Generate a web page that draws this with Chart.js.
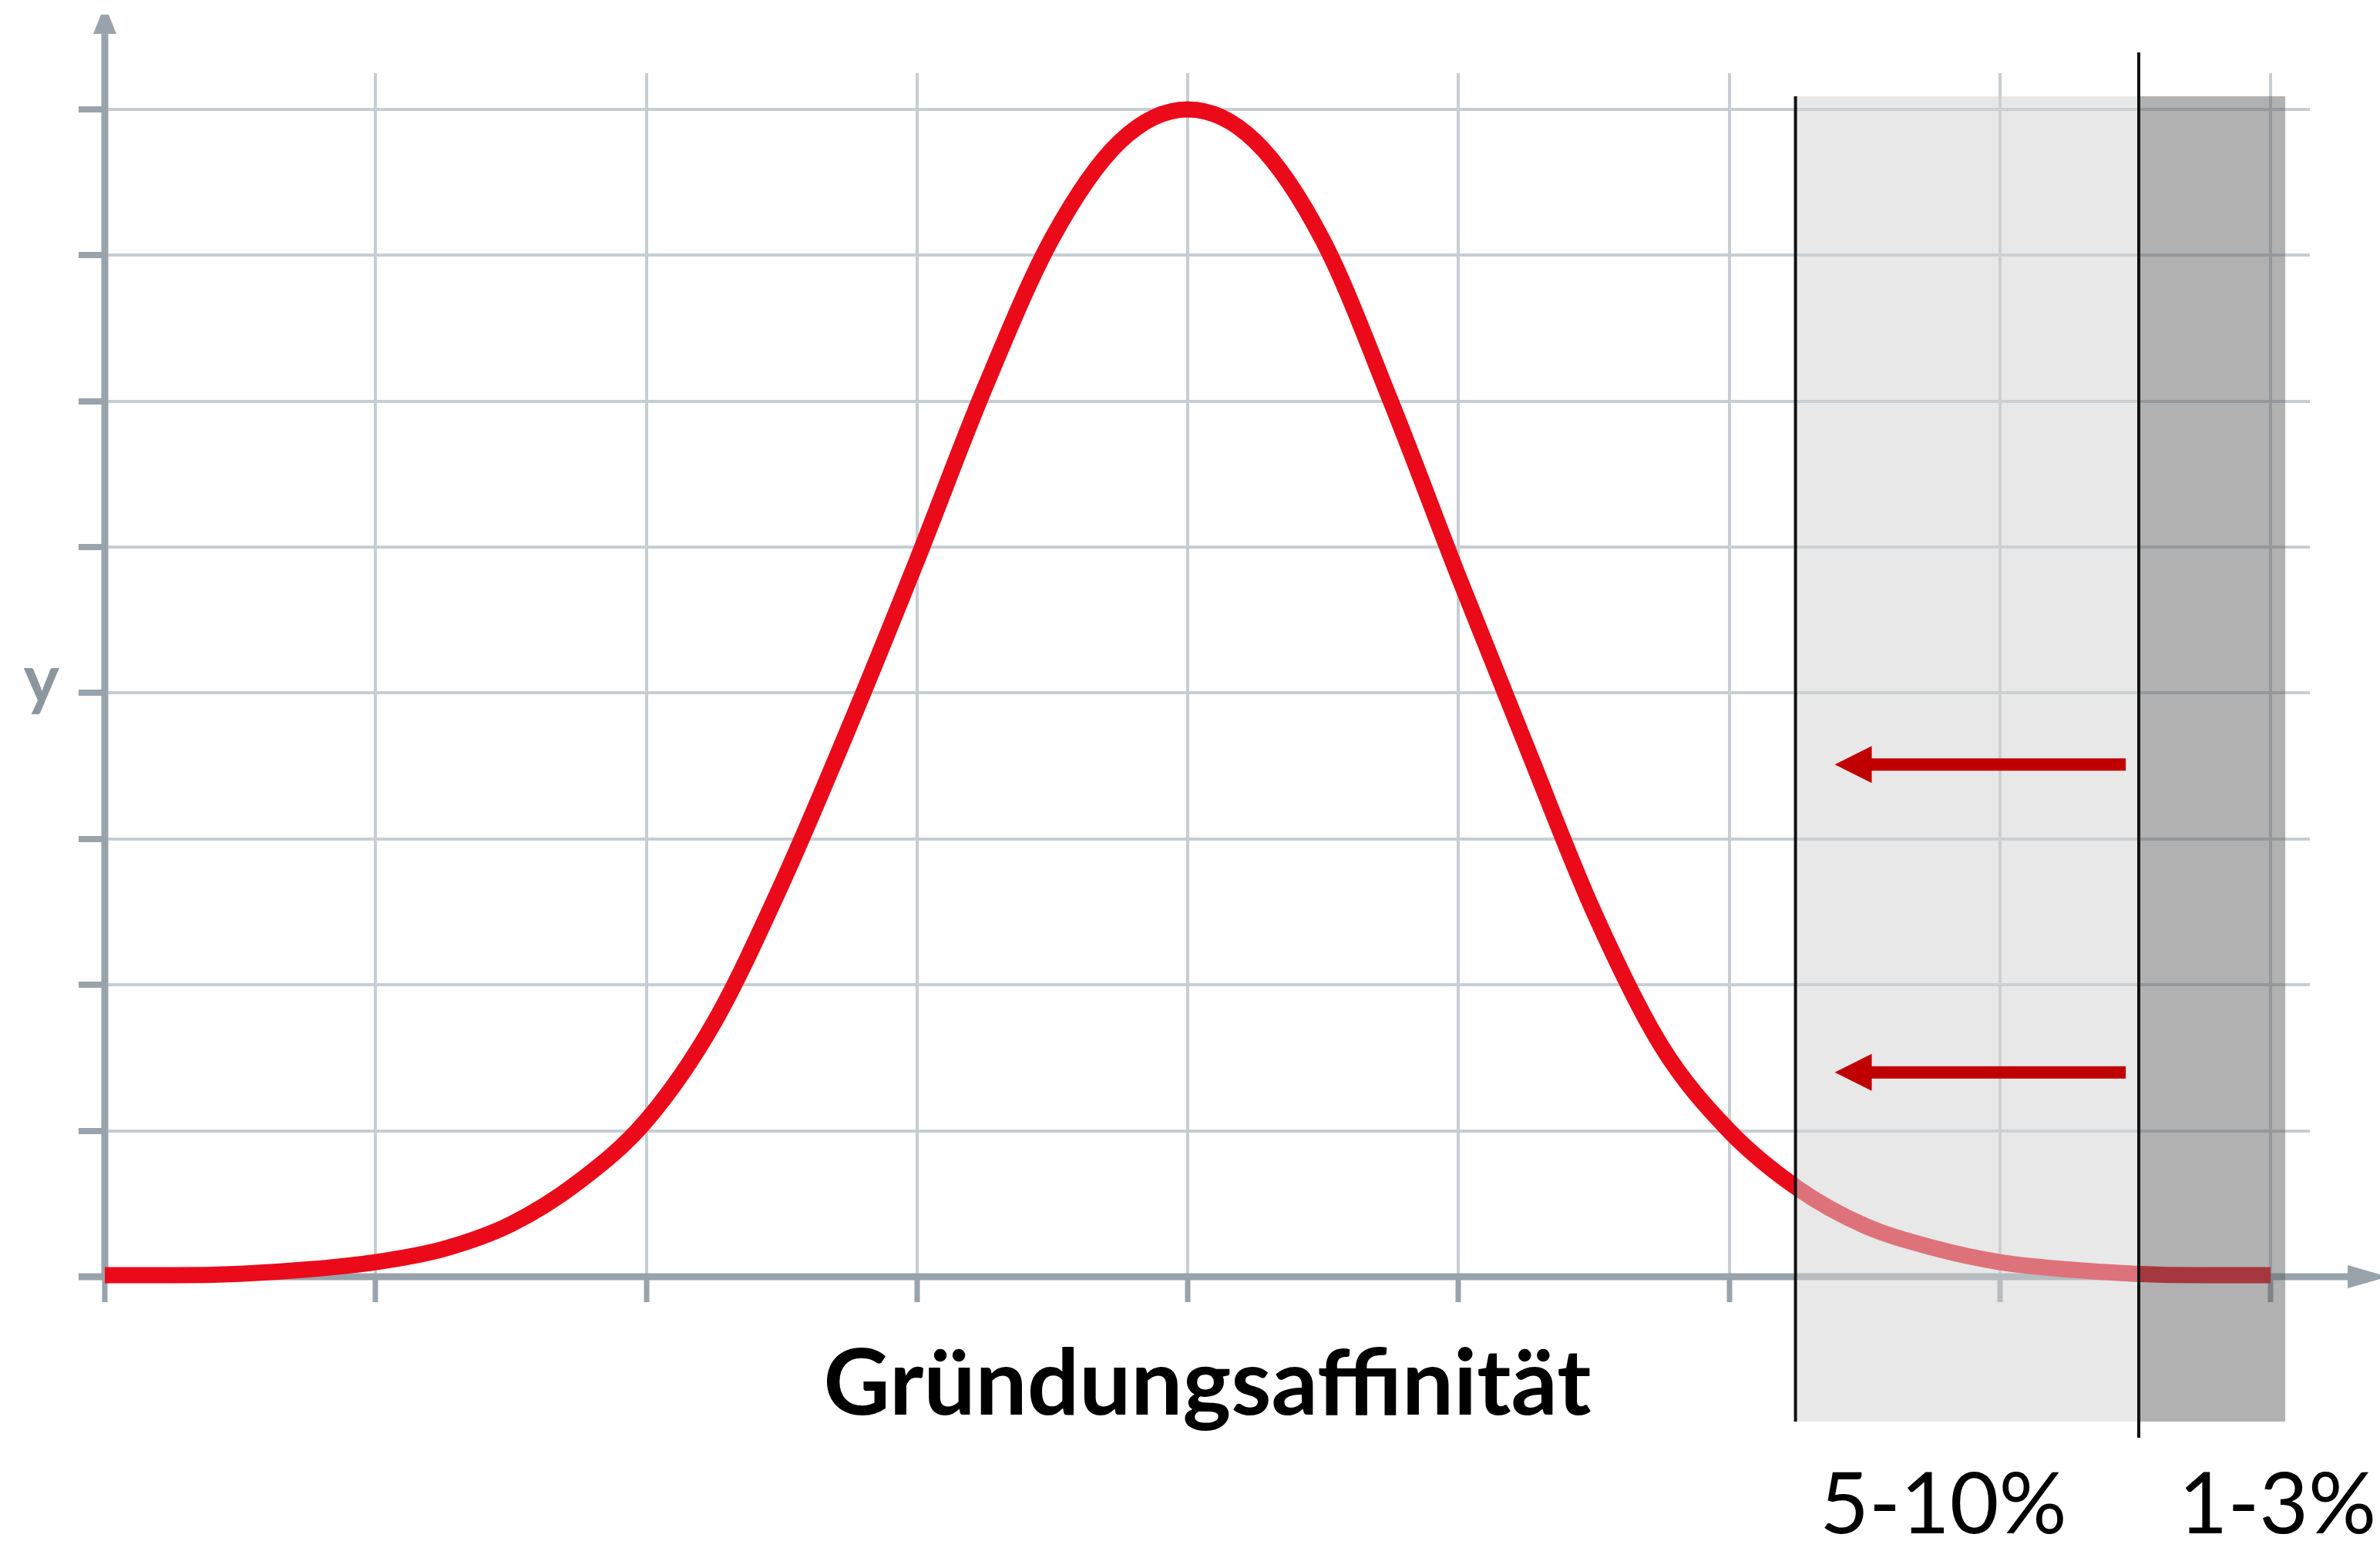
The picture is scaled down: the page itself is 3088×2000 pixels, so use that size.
<!DOCTYPE html>
<html>
<head>
<meta charset="utf-8">
<script src="https://cdn.jsdelivr.net/npm/chart.js@4.4.1/dist/chart.umd.min.js"></script>
<style>
  html, body { margin: 0; padding: 0; background: #ffffff; }
  #wrap { width: 3088px; height: 2000px; position: relative; }
</style>
</head>
<body>
<div id="wrap"><canvas id="bellChart"></canvas></div>
<script>
// Curve (x in grid units, y in grid units)
const xValues = [0, 0.25, 0.5, 0.75, 1, 1.25, 1.5, 1.75, 2, 2.25, 2.5, 2.75, 3, 3.25, 3.5, 3.75, 4,
                 4.25, 4.5, 4.75, 5, 5.25, 5.5, 5.75, 6, 6.25, 6.5, 6.75, 7, 7.25, 7.5, 7.75, 8];
const yValues = [0.01, 0.01, 0.02, 0.05, 0.1, 0.19, 0.36, 0.65, 1.07, 1.74, 2.69, 3.77, 4.91, 6.09, 7.12, 7.78, 8.0,
                 7.78, 7.1, 6.0, 4.8, 3.64, 2.5, 1.58, 1.0, 0.61, 0.35, 0.2, 0.1, 0.05, 0.02, 0.01, 0.01];

// Axis ticks
const xTicks = [0, 1, 2, 3, 4, 5, 6, 7, 8];
const yTicks = [0, 1, 2, 3, 4, 5, 6, 7, 8];
const yTickLabels = ['', '', '', '', 'y', '', '', '', ''];

// Shaded bands on the right tail and their labels
const bandEdges = [6.245, 7.513, 8.054];
const bandLabels = ['5-10%', '1-3%'];
const bandLabelX = [6.335, 7.66];

// Red arrows pointing left (y level, from x, to x)
const arrowLevels = [3.51, 1.4];
const arrowFrom = 7.465;
const arrowTo = 6.39;

const axisTitle = 'Gründungsaffinität';

const axisColor = '#98a3ab';
const gridColor = '#c6cdd3';
const curveRed = '#ea0a1a';
const arrowRed = '#c00000';

// axes with arrowheads, drawn under the curve
const axesPlugin = {
    id: 'axesPlugin',
    beforeDatasetsDraw(chart) {
        const ctx = chart.ctx;
        const xs = chart.scales.x, ys = chart.scales.y;
        const x0 = xs.getPixelForValue(0);
        const y0 = ys.getPixelForValue(0);
        ctx.save();
        ctx.fillStyle = axisColor;
        // y axis
        ctx.fillRect(x0 - 4.5, 40, 9, y0 - 40 + 4.5);
        ctx.beginPath();
        ctx.moveTo(x0 - 5, 19);
        ctx.lineTo(x0 + 5, 19);
        ctx.lineTo(x0 + 15, 44);
        ctx.lineTo(x0 - 15, 44);
        ctx.closePath();
        ctx.fill();
        // x axis
        ctx.fillRect(102, y0 - 4.5, 3050 - 102, 9);
        ctx.beginPath();
        ctx.moveTo(3046, y0 - 15);
        ctx.lineTo(3088, y0 - 3);
        ctx.lineTo(3088, y0 + 3);
        ctx.lineTo(3046, y0 + 15);
        ctx.closePath();
        ctx.fill();
        ctx.restore();
    }
};

// bands, arrows and texts, drawn over the curve
const overlayPlugin = {
    id: 'overlayPlugin',
    afterDatasetsDraw(chart) {
        const ctx = chart.ctx;
        const xs = chart.scales.x, ys = chart.scales.y;
        const e = bandEdges.map(v => xs.getPixelForValue(v));
        const top = 125, bottom = 1845;
        ctx.save();
        ctx.fillStyle = 'rgba(211, 211, 211, 0.52)';
        ctx.fillRect(e[0], top, e[1] - e[0], bottom - top);
        ctx.fillStyle = 'rgba(100, 100, 100, 0.5)';
        ctx.fillRect(e[1], top, e[2] - e[1], bottom - top);

        ctx.fillStyle = '#111111';
        ctx.fillRect(e[0] - 2, top, 4, bottom - top);
        ctx.fillRect(e[1] - 2, 68, 4, 1866 - 68);

        // arrows
        ctx.fillStyle = arrowRed;
        const xTip = xs.getPixelForValue(arrowTo);
        const xTail = xs.getPixelForValue(arrowFrom);
        arrowLevels.forEach(level => {
            const y = ys.getPixelForValue(level);
            ctx.fillRect(xTip + 47, y - 8, xTail - xTip - 47, 16);
            ctx.beginPath();
            ctx.moveTo(xTip, y);
            ctx.lineTo(xTip + 48, y - 24);
            ctx.lineTo(xTip + 48, y + 24);
            ctx.closePath();
            ctx.fill();
        });

        // texts
        ctx.fillStyle = '#000000';
        ctx.textBaseline = 'alphabetic';
        ctx.textAlign = 'center';
        ctx.font = 'bold 119px Lato';
        ctx.fillText(axisTitle, (chart.chartArea.left + chart.chartArea.right) / 2, 1836);

        ctx.textAlign = 'left';
        ctx.font = '110px Lato';
        bandLabels.forEach((t, i) => {
            ctx.fillText(t, xs.getPixelForValue(bandLabelX[i]), 1990);
        });
        ctx.restore();
    }
};

function renderBellChart() {
    const ctx = document.getElementById('bellChart').getContext('2d');
    new Chart(ctx, {
        type: 'line',
        data: {
            datasets: [{
                data: xValues.map((x, i) => ({ x: x, y: yValues[i] })),
                borderColor: curveRed,
                borderWidth: 21,
                borderCapStyle: 'butt',
                borderJoinStyle: 'round',
                pointRadius: 0,
                cubicInterpolationMode: 'monotone',
                fill: false,
                clip: false
            }]
        },
        options: {
            responsive: true,
            maintainAspectRatio: false,
            animation: false,
            devicePixelRatio: 1,
            layout: { padding: { top: 95, right: 91, left: 0, bottom: 0 } },
            plugins: {
                legend: { display: false },
                title: { display: false },
                tooltip: { enabled: false }
            },
            scales: {
                x: {
                    type: 'linear',
                    min: 0,
                    max: 8.145,
                    afterBuildTicks: s => { s.ticks = xTicks.map(v => ({ value: v })); },
                    afterFit: s => { s.height = 343; },
                    grid: { color: gridColor, lineWidth: 4, tickLength: 33, tickColor: axisColor, tickWidth: 7 },
                    border: { display: false },
                    ticks: { display: false }
                },
                y: {
                    type: 'linear',
                    min: 0,
                    max: 8.248,
                    afterBuildTicks: s => { s.ticks = yTicks.map(v => ({ value: v })); },
                    afterFit: s => { s.width = 136; },
                    grid: { color: gridColor, lineWidth: 4, tickLength: 34, tickColor: axisColor, tickWidth: 8 },
                    border: { display: false },
                    ticks: {
                        callback: (v, i) => yTickLabels[i],
                        padding: 25,
                        labelOffset: -16,
                        color: '#8c98a0',
                        font: { family: 'Lato', weight: 'bold', size: 88 }
                    }
                }
            }
        },
        plugins: [axesPlugin, overlayPlugin]
    });
}

window.onload = function() {
    renderBellChart();
};
</script>
</body>
</html>
